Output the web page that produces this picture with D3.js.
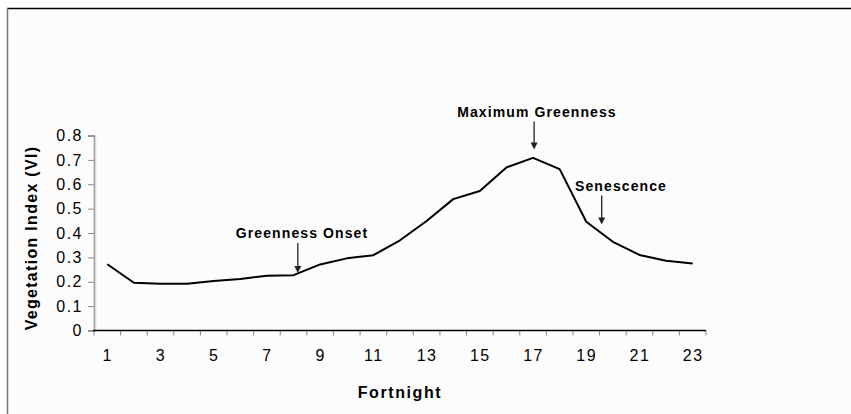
<!DOCTYPE html>
<html>
<head>
<meta charset="utf-8">
<script src="https://cdn.jsdelivr.net/npm/d3@7"></script>
<style>
  body { margin: 0; background: #fff; }
  text { font-family: "Liberation Sans", Arial, sans-serif; fill: #000; }
</style>
</head>
<body>
<script>
// data
var fortnights = d3.range(1, 24);
var viValues = [0.272, 0.196, 0.192, 0.192, 0.203, 0.211, 0.225, 0.227, 0.271, 0.296, 0.309, 0.37,
                0.449, 0.539, 0.572, 0.669, 0.708, 0.662, 0.446, 0.364, 0.31, 0.286, 0.275];
var xTickLabels = [1, 3, 5, 7, 9, 11, 13, 15, 17, 19, 21, 23];
var yTickValues = [0, 0.1, 0.2, 0.3, 0.4, 0.5, 0.6, 0.7, 0.8];
var noteLabels = ["Greenness Onset", "Maximum Greenness", "Senescence"];
var noteAt = [8.16, 17.04, 19.58];   // fortnight where the arrow points

var w = 851, h = 414;

var svg = d3.select("body")
            .append("svg")
            .attr("width", w)
            .attr("height", h);

// frame
svg.append("rect").attr("x", 7).attr("y", 8).attr("width", w).attr("height", h)
   .attr("fill", "#fcfcfc");
svg.append("line").attr("x1", 7).attr("x2", w).attr("y1", 8.5).attr("y2", 8.5)
   .attr("stroke", "#000").attr("stroke-width", 1.5);
svg.append("line").attr("x1", 7.5).attr("x2", 7.5).attr("y1", 8).attr("y2", h)
   .attr("stroke", "#777").attr("stroke-width", 1.5);

var x = d3.scaleBand()
          .domain(fortnights)
          .range([94, 706])
          .padding(0);
var xc = d3.scaleLinear()   // fortnight -> centre of its band
           .domain([1, 23])
           .range([94 + x.bandwidth() / 2, 706 - x.bandwidth() / 2]);
var y = d3.scaleLinear()
          .domain([0, 0.8])
          .range([330.5, 135.5]);

// y axis
var yAxis = d3.axisLeft(y)
              .tickValues(yTickValues)
              .tickFormat(function(d) { return d === 0 ? "0" : d3.format(".1f")(d); })
              .tickSize(6)
              .tickPadding(5);
var gy = svg.append("g")
   .attr("transform", "translate(94,0)")
   .call(yAxis);
gy.select(".domain").attr("stroke", "#888").attr("stroke-width", 1.5);
gy.selectAll(".tick line").attr("stroke", "#888");
gy.selectAll(".tick text")
  .style("font-size", "16px").style("letter-spacing", "1.5px")
  .attr("fill", "#000");
svg.append("line").attr("x1", 95.5).attr("x2", 95.5).attr("y1", 137).attr("y2", 330)
   .attr("stroke", "#ddd").attr("stroke-width", 1.5);

// x axis labels
var xAxis = d3.axisBottom(xc)
              .tickValues(xTickLabels)
              .tickFormat(d3.format("d"))
              .tickSize(0)
              .tickPadding(19);
var gx = svg.append("g")
   .attr("transform", "translate(0,330.5)")
   .call(xAxis);
gx.select(".domain").remove();
gx.selectAll(".tick text")
  .style("font-size", "16px").style("letter-spacing", "1.5px")
  .attr("fill", "#000");

// x tick marks at band edges
var edges = fortnights.map(function(d) { return x(d); }).concat([x(23) + x.bandwidth()]);
svg.append("g").selectAll("line")
   .data(edges)
   .enter()
   .append("line")
   .attr("x1", function(d) { return d; })
   .attr("x2", function(d) { return d; })
   .attr("y1", 330.5).attr("y2", 335.5)
   .attr("stroke", "#888");
svg.append("line").attr("x1", 93).attr("x2", 706).attr("y1", 330.5).attr("y2", 330.5)
   .attr("stroke", "#000").attr("stroke-width", 1.5);

// the line
var line = d3.line()
             .x(function(d, i) { return xc(fortnights[i]); })
             .y(function(d) { return y(d); });
svg.append("path")
   .datum(viValues)
   .attr("d", line)
   .attr("fill", "none")
   .attr("stroke", "#000")
   .attr("stroke-width", 2)
   .attr("stroke-linejoin", "round");

// annotations
var noteTop = [233, 111.5, 185.5];     // vertical centre of label, px
var arrowLen = [30, 28, 29];
noteLabels.forEach(function(t, i) {
  var ax = xc(noteAt[i]);
  var cx = [302, 537, 621][i];
  svg.append("text")
     .attr("x", cx).attr("y", noteTop[i] + 5)
     .attr("text-anchor", "middle")
     .style("font-size", "14px").style("font-weight", "bold").style("letter-spacing", "1.1px")
     .text(t);
  var y0 = noteTop[i] + 10, y1 = y0 + arrowLen[i];
  svg.append("line").attr("x1", ax).attr("x2", ax).attr("y1", y0).attr("y2", y1 - 6)
     .attr("stroke", "#222").attr("stroke-width", 1.3);
  svg.append("path")
     .attr("d", "M" + (ax - 3.5) + "," + (y1 - 7) + "L" + (ax + 3.5) + "," + (y1 - 7) + "L" + ax + "," + y1 + "Z")
     .attr("fill", "#222");
});

// axis titles
svg.append("text")
   .attr("transform", "translate(37,238) rotate(-90)")
   .attr("text-anchor", "middle")
   .style("font-size", "16px").style("font-weight", "bold").style("letter-spacing", "1.3px")
   .text("Vegetation Index (VI)");
svg.append("text")
   .attr("x", 400).attr("y", 398)
   .attr("text-anchor", "middle")
   .style("font-size", "16px").style("font-weight", "bold").style("letter-spacing", "1.6px")
   .text("Fortnight");
</script>
</body>
</html>
